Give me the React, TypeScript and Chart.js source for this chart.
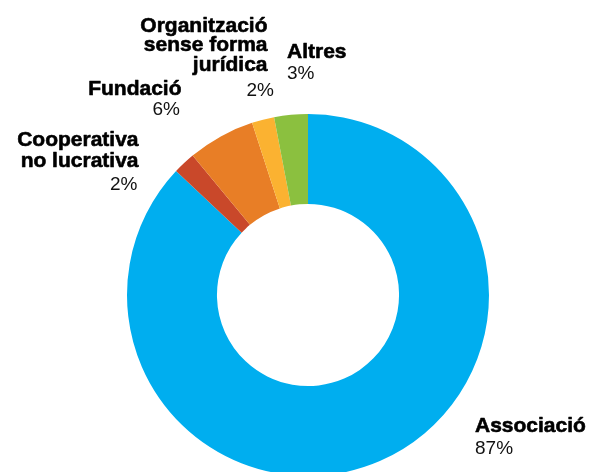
import React, { useEffect, useRef } from "react";
import { Chart, registerables } from "chart.js";

Chart.register(...registerables);

const categories = ["Associació", "Cooperativa no lucrativa", "Fundació", "Organització sense forma jurídica", "Altres"];
const labelLines = [["Associació"], ["Cooperativa", "no lucrativa"], ["Fundació"], ["Organització", "sense forma", "jurídica"], ["Altres"]];
const values = [87, 2, 6, 2, 3];
const percentLabels = ["87%", "2%", "6%", "2%", "3%"];
const colors = ["#00AEEF", "#C9482A", "#E87E26", "#FBB231", "#8BC03F"];

// label layout relative to the doughnut centre (baseline of first line)
const labelLayout = [
  { align: "left", dx: 167, dy: 137, lineGap: 20, pctGap: 22, pctDx: 0 },
  { align: "right", dx: -169.5, dy: -149, lineGap: 20.7, pctGap: 23.3, pctDx: -1 },
  { align: "right", dx: -126.5, dy: -200, lineGap: 20, pctGap: 20, pctDx: -1.5 },
  { align: "right", dx: -40.5, dy: -263, lineGap: 19.35, pctGap: 25, pctDx: 6.5 },
  { align: "left", dx: -21, dy: -236.7, lineGap: 20, pctGap: 20.7, pctDx: 0 },
];

const outerLabels = {
  id: "outerLabels",
  afterDraw(chart: any) {
    const ctx = chart.ctx;
    const meta = chart.getDatasetMeta(0);
    const arc = meta.data[0];
    if (!arc) return;
    const cx = arc.x;
    const cy = arc.y;
    ctx.save();
    ctx.textBaseline = "alphabetic";
    ctx.lineJoin = "round";
    labelLayout.forEach((l, i) => {
      ctx.textAlign = l.align;
      ctx.fillStyle = "#000";
      ctx.strokeStyle = "#000";
      ctx.lineWidth = 0.6;
      ctx.font = "bold 21px 'Liberation Sans', Arial, sans-serif";
      const lines = labelLines[i];
      let y = cy + l.dy;
      lines.forEach((t, j) => {
        ctx.fillText(t, cx + l.dx, y);
        ctx.strokeText(t, cx + l.dx, y);
        if (j < lines.length - 1) y += l.lineGap;
      });
      ctx.font = "19px 'Liberation Sans', Arial, sans-serif";
      ctx.fillStyle = "#111";
      ctx.fillText(percentLabels[i], cx + l.dx + l.pctDx, y + l.pctGap);
    });
    ctx.restore();
  },
};

export default function App() {
  const ref = useRef<HTMLCanvasElement>(null);
  useEffect(() => {
    const chart = new Chart(ref.current!, {
      type: "doughnut",
      data: {
        labels: categories,
        datasets: [
          {
            data: values,
            backgroundColor: colors,
            borderWidth: 0,
            hoverOffset: 0,
            offset: 0,
          },
        ],
      },
      options: {
        responsive: false,
        animation: false,
        cutout: "50.3%",
        layout: { padding: { left: 127, right: 102, top: 114, bottom: 44 } },
        plugins: { legend: { display: false }, tooltip: { enabled: false } },
      },
      plugins: [outerLabels],
    });
    return () => chart.destroy();
  }, []);
  return (
    <div style={{ position: "fixed", left: 0, top: 0, width: 591, height: 472, overflow: "hidden", background: "#fff" }}>
      <canvas ref={ref} width={591} height={520} style={{ display: "block" }} />
    </div>
  );
}
